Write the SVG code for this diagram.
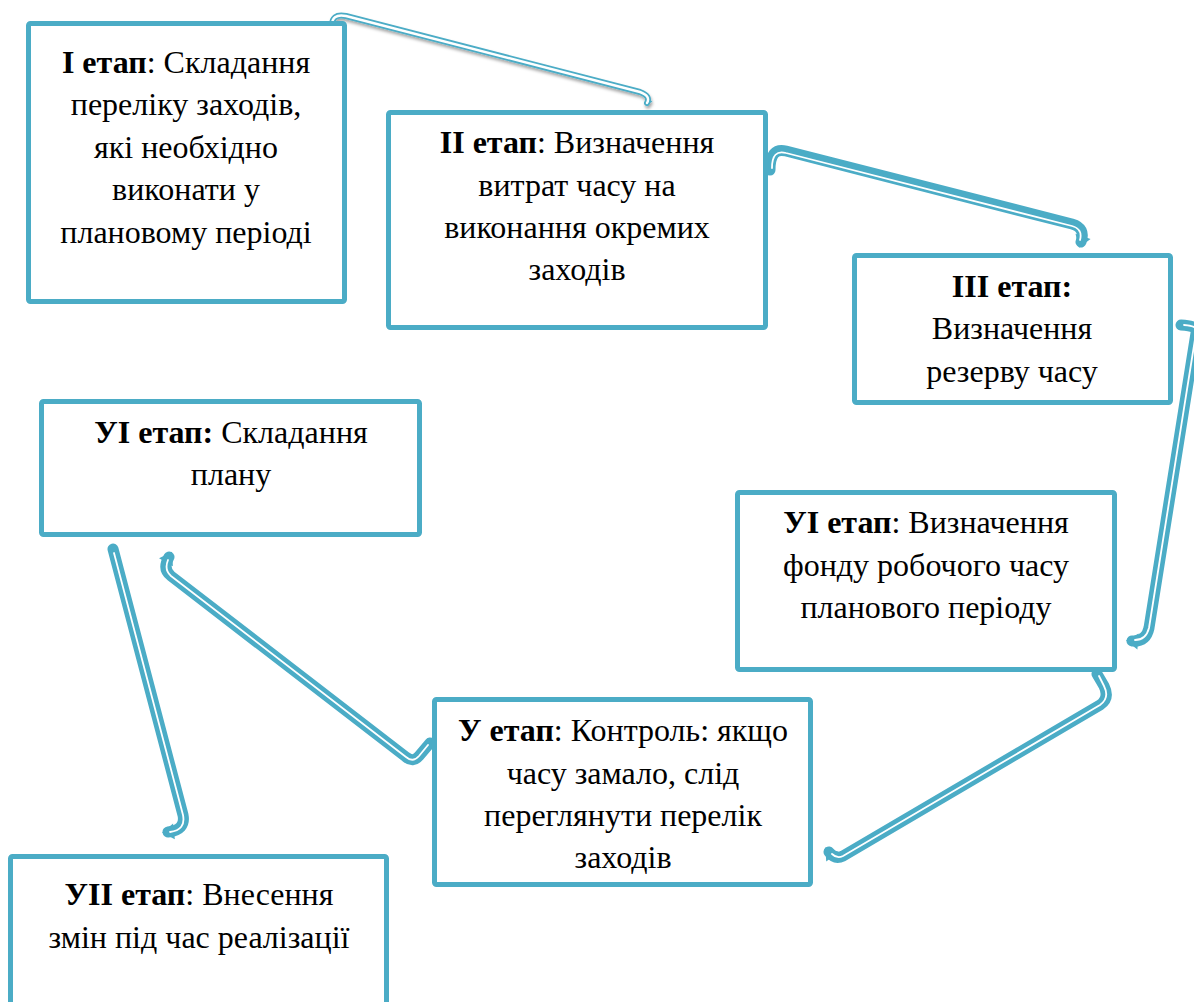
<svg xmlns="http://www.w3.org/2000/svg" width="1194" height="1002" viewBox="0 0 1194 1002">
<defs>
<style>
.box{fill:#ffffff;stroke:#4BACC6;stroke-width:5;}
text{font-family:'Liberation Serif',serif;font-size:32px;fill:#000000;text-anchor:middle;}
.b{font-weight:bold;}
.co{fill:none;stroke:#4BACC6;stroke-linecap:round;stroke-linejoin:round;}
.ci{fill:none;stroke:#ffffff;stroke-linecap:round;stroke-linejoin:round;}
</style>
<marker id="ah" markerUnits="userSpaceOnUse" markerWidth="20" markerHeight="20" viewBox="-10 -10 20 20" refX="0" refY="0" orient="auto">
<path d="M-6,-8 L6,0 L-6,8 z" fill="#4BACC6"/>
</marker>
<marker id="ah1" markerUnits="userSpaceOnUse" markerWidth="12" markerHeight="12" viewBox="-6 -6 12 12" refX="0" refY="0" orient="auto">
<path d="M-4,-4 L3,0 L-4,4 z" fill="#4BACC6"/>
</marker>
<filter id="sh" x="-10%" y="-50%" width="120%" height="200%">
<feDropShadow dx="1" dy="2.5" stdDeviation="1.5" flood-color="#000000" flood-opacity="0.35"/>
</filter>
</defs>

<g id="connectors">
<g id="c1" filter="url(#sh)">
<path class="co" stroke-width="6" d="M332 27 Q331 13 346 16 L640 92 Q651 96 647 103" marker-end="url(#ah1)"/>
<path class="ci" stroke-width="2.4" d="M332 27 Q331 13 346 16 L640 92 Q651 96 647 103"/>
</g>
<g id="c2">
<path class="co" stroke-width="11" d="M770 170 Q770 147 786 151 L1072 224 Q1086 228 1081 242" marker-end="url(#ah)"/>
<path class="ci" stroke-width="1.8" d="M772 168 Q772 149 786 153 L1072 226 Q1083 229 1080 240"/>
</g>
<g id="c3">
<path class="co" stroke-width="11" d="M1181 325 Q1200 326 1196 333 L1149 628 Q1146 642 1132 641" marker-end="url(#ah)"/>
<path class="ci" stroke-width="1.8" d="M1184 325 Q1200 326 1196 333 L1149 628 Q1146 640 1135 640"/>
</g>
<g id="c4">
<path class="co" stroke-width="11" d="M1097 674 L1104 686 Q1110 698 1100 705 L843 856 Q835 860 829 852" marker-end="url(#ah)"/>
<path class="ci" stroke-width="1.8" d="M1099 676 L1104 686 Q1110 698 1100 705 L843 856 Q837 859 832 854"/>
</g>
<g id="c5">
<path class="co" stroke-width="11" d="M430 743 L419 756 Q413 763 406 757 L171 576 Q162 569 169 557" marker-end="url(#ah)"/>
<path class="ci" stroke-width="1.8" d="M428 745 L419 756 Q413 763 406 757 L171 576 Q164 570 168 560"/>
</g>
<g id="c6">
<path class="co" stroke-width="11" d="M113 549 L183 815 Q186 830 168 832" marker-end="url(#ah)"/>
<path class="ci" stroke-width="1.8" d="M114 553 L183 815 Q186 830 170 832"/>
</g>
</g>

<g id="n1">
<rect class="box" x="28.5" y="23.5" width="316" height="278" rx="2"/>
<text x="186" y="73"><tspan class="b">І етап</tspan>: Складання</text>
<text x="186" y="115">переліку заходів,</text>
<text x="186" y="158">які необхідно</text>
<text x="186" y="200">виконати у</text>
<text x="186" y="243">плановому періоді</text>
</g>

<g id="n2">
<rect class="box" x="388.5" y="112.5" width="377" height="215" rx="2"/>
<text x="577" y="153"><tspan class="b">ІІ етап</tspan>: Визначення</text>
<text x="577" y="196">витрат часу на</text>
<text x="577" y="238">виконання окремих</text>
<text x="577" y="280">заходів</text>
</g>

<g id="n3">
<rect class="box" x="854.5" y="255.5" width="316" height="147" rx="2"/>
<text class="b" x="1012" y="297">ІІІ етап:</text>
<text x="1012" y="339">Визначення</text>
<text x="1012" y="382">резерву часу</text>
</g>

<g id="n4">
<rect class="box" x="41.5" y="401.5" width="378" height="133" rx="2"/>
<text x="231" y="443"><tspan class="b">УІ етап:</tspan> Складання</text>
<text x="231" y="485">плану</text>
</g>

<g id="n5">
<rect class="box" x="737.5" y="492.5" width="377" height="177" rx="2"/>
<text x="926" y="533"><tspan class="b">УІ етап</tspan>: Визначення</text>
<text x="926" y="576">фонду робочого часу</text>
<text x="926" y="618">планового періоду</text>
</g>

<g id="n6">
<rect class="box" x="434.5" y="699.5" width="376" height="185" rx="2"/>
<text x="623" y="741"><tspan class="b">У етап</tspan>: Контроль: якщо</text>
<text x="623" y="784">часу замало, слід</text>
<text x="623" y="826">переглянути перелік</text>
<text x="623" y="868">заходів</text>
</g>

<g id="n7">
<rect class="box" x="10.5" y="856.5" width="376" height="200" rx="2"/>
<text x="199" y="905"><tspan class="b">УІІ етап</tspan>: Внесення</text>
<text x="199" y="948">змін під час реалізації</text>
</g>
</svg>
